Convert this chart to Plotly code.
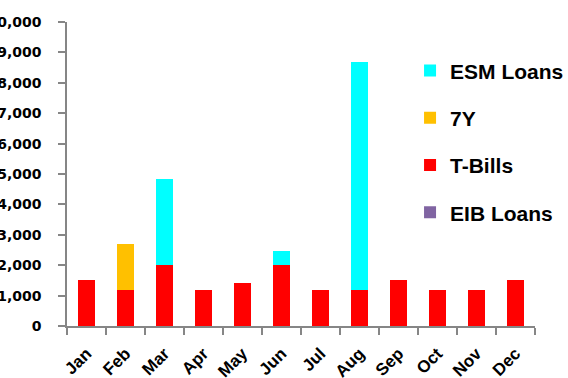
import plotly.graph_objects as go

months = ["Jan", "Feb", "Mar", "Apr", "May", "Jun",
          "Jul", "Aug", "Sep", "Oct", "Nov", "Dec"]

# redemptions per month, stacked
eib_loans = [0, 0, 0, 0, 0, 0, 0, 0, 0, 0, 0, 0]
t_bills = [1500, 1200, 2000, 1200, 1400, 2000, 1200, 1200, 1500, 1200, 1200, 1500]
bond_7y = [0, 1500, 0, 0, 0, 0, 0, 0, 0, 0, 0, 0]
esm_loans = [0, 0, 2850, 0, 0, 480, 0, 7500, 0, 0, 0, 0]

y_ticks = list(range(0, 10001, 1000))

# (name, values, colour, legend rank) - bottom of the stack first
series = [
    ("EIB Loans", eib_loans, "#8064A2", 4),
    ("T-Bills", t_bills, "#FF0000", 3),
    ("7Y", bond_7y, "#FFC000", 2),
    ("ESM Loans", esm_loans, "#00FFFF", 1),
]

fig = go.Figure()
for name, vals, color, rank in series:
    fig.add_trace(go.Bar(
        x=months, y=vals, name=name, legendgroup=name, legendrank=rank,
        marker=dict(color=color, line=dict(width=0)),
    ))

axis_grey = "#868686"
fig.update_layout(
    barmode="stack",
    bargap=0.56,
    width=568, height=378,
    margin=dict(l=67, r=33, t=22, b=52, autoexpand=False),
    paper_bgcolor="white",
    plot_bgcolor="white",
    showlegend=True,
    legend=dict(
        x=0.733, xanchor="left",
        y=0.907, yanchor="top",
        traceorder="grouped",
        tracegroupgap=17,
        font=dict(family="Liberation Sans", size=21, color="black", weight="bold"),
        bgcolor="rgba(0,0,0,0)",
    ),
    xaxis=dict(
        type="category",
        automargin=False,
        showline=True, linecolor=axis_grey, linewidth=2,
        ticks="outside", tickson="boundaries", ticklen=7,
        tickcolor=axis_grey, tickwidth=1.5,
        tickangle=-45,
        ticklabelstandoff=9,
        tickfont=dict(family="Liberation Sans", size=17, color="black", weight="bold"),
        showgrid=False,
    ),
    yaxis=dict(
        range=[0, 10000],
        automargin=False,
        tickvals=y_ticks,
        tickformat=",d",
        showline=True, linecolor=axis_grey, linewidth=1.5,
        ticks="outside", ticklen=7, tickcolor=axis_grey, tickwidth=1.5,
        ticklabelstandoff=14,
        tickfont=dict(family="DejaVu Sans", size=14, color="black", weight="bold"),
        showgrid=False, zeroline=False,
    ),
)

fig.write_html("out.html")
